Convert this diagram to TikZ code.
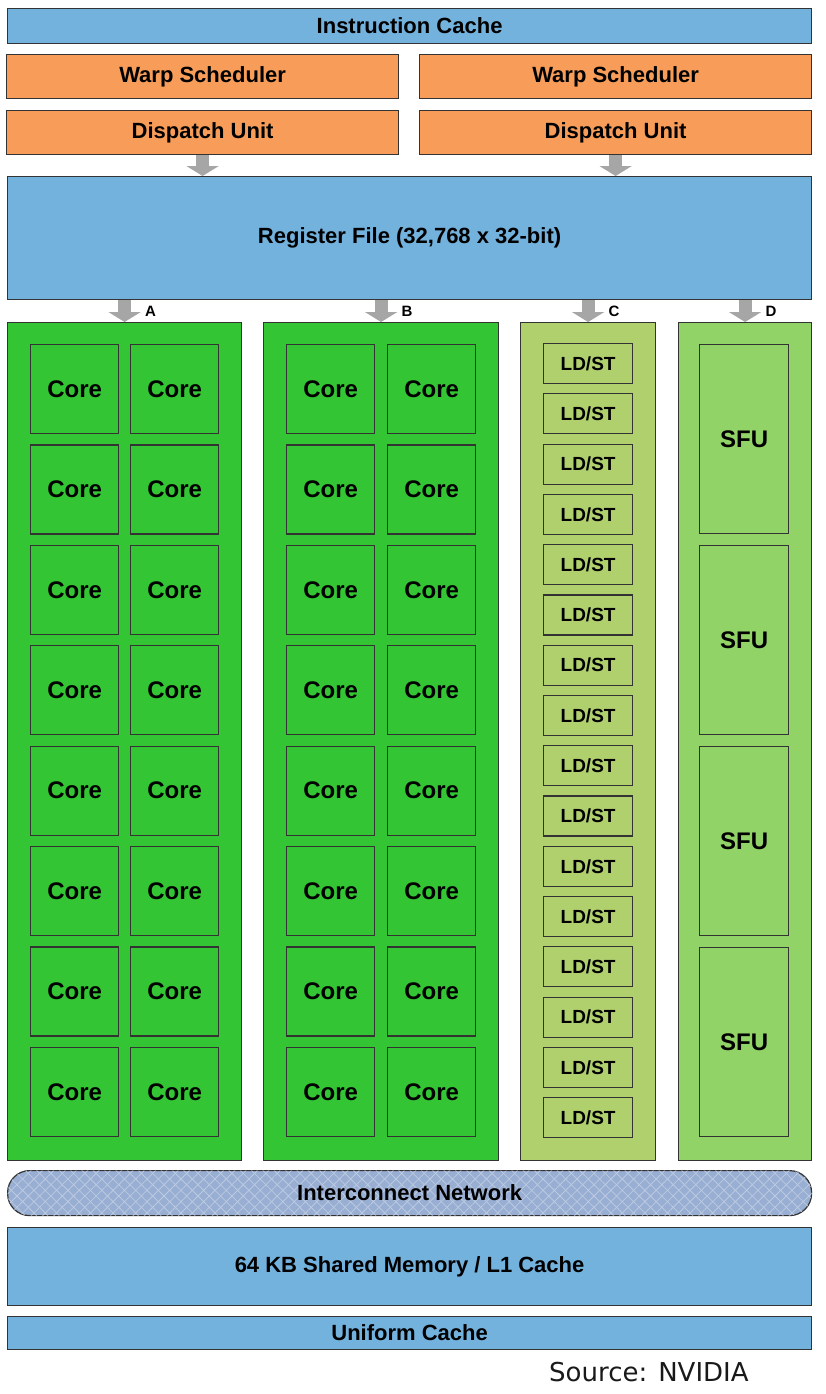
\documentclass[tikz,border=0pt]{standalone}
\usepackage{fontspec}
\setmainfont{Liberation Sans}
\newfontfamily\srcfont{DejaVu Sans}
\usetikzlibrary{positioning,arrows.meta,patterns.meta,calc}

\definecolor{cacheblue}{RGB}{116,178,222}
\definecolor{schedorange}{RGB}{247,157,89}
\definecolor{coregreen}{RGB}{51,197,51}
\definecolor{ldstgreen}{RGB}{176,208,110}
\definecolor{sfugreen}{RGB}{146,211,104}
\definecolor{netblue}{RGB}{152,174,210}
\definecolor{feedgray}{RGB}{166,166,166}

\begin{document}
\begin{tikzpicture}[x=1pt, y=-1pt,
    box/.style={rectangle, draw=black!80, line width=1.2pt, anchor=north west, inner sep=0pt, align=center, font=\bfseries\fontsize{22}{24}\selectfont},
    sized/.style 2 args={minimum width=#1pt, minimum height=#2pt},
    cachebox/.style={box, fill=cacheblue},
    schedbox/.style={box, fill=schedorange, sized={392}{44}},
    lane/.style={box, sized={#1}{838}},
    core/.style={box, fill=coregreen, sized={88}{89}, font=\bfseries\fontsize{24}{26}\selectfont},
    ldst/.style={box, fill=ldstgreen, sized={89}{40}, font=\bfseries\fontsize{19}{21}\selectfont},
    sfu/.style={box, fill=sfugreen, sized={89}{189}, font=\bfseries\fontsize{24}{26}\selectfont},
    feed/.style={draw=feedgray, line width=13pt, -{Triangle[width=32pt, length=10pt]}},
    lbl/.style={font=\bfseries\fontsize{15}{17}\selectfont, inner sep=0pt}
]
    \useasboundingbox (0,0) rectangle (825,1394);

    % front end
    \node[cachebox, sized={804}{35}] (icache) at (7,8) {Instruction Cache};
    \node[schedbox] (warp1) at (6,54) {Warp Scheduler};
    \node[schedbox] (warp2) at (419,54) {Warp Scheduler};
    \node[schedbox] (disp1) at (6,110) {Dispatch Unit};
    \node[schedbox] (disp2) at (419,110) {Dispatch Unit};
    \node[cachebox, sized={804}{123}] (regfile) at (7,176) {Register File (32,768 x 32-bit)};

    \draw[feed] (disp1.south) -- (disp1.south |- regfile.north);
    \draw[feed] (disp2.south) -- (disp2.south |- regfile.north);

    % execution lanes
    \node[lane=234, fill=coregreen] (colA) at (7,322) {};
    \node[lane=235, fill=coregreen] (colB) at (263,322) {};
    \node[lane=135, fill=ldstgreen] (colC) at (520,322) {};
    \node[lane=133, fill=sfugreen] (colD) at (678,322) {};

    \foreach \col/\lab in {colA/A, colB/B, colC/C, colD/D} {
        \draw[feed] (regfile.south -| \col.north) -- (\col.north);
        \node[lbl] (lab\lab) at ([xshift=26pt, yshift=11pt]\col.north) {\lab};
    }

    \foreach \c/\xa/\xb in {A/30/130, B/286/387} {
        \foreach \r in {0,...,7} {
            \pgfmathsetmacro\yy{344+100.4*\r}
            \node[core] (core\c-\r-1) at (\xa,\yy) {Core};
            \node[core] (core\c-\r-2) at (\xb,\yy) {Core};
        }
    }

    \foreach \r in {0,...,15} {
        \pgfmathsetmacro\yy{343+50.27*\r}
        \node[ldst] (ldst-\r) at (543,\yy) {LD/ST};
    }

    \foreach \r in {0,...,3} {
        \pgfmathsetmacro\yy{344+201*\r}
        \node[sfu] (sfu-\r) at (699,\yy) {SFU};
    }

    % memory side
    \node[box, sized={804}{45}, rounded corners=22pt, fill=netblue,
        postaction={pattern={Lines[angle=45, distance=8pt, line width=0.8pt]}, pattern color=white!35!netblue},
        postaction={pattern={Lines[angle=-45, distance=8pt, line width=0.8pt]}, pattern color=white!35!netblue}] (net) at (7,1170) {};
    \node[font=\bfseries\fontsize{22}{24}\selectfont] (netlabel) at (net.center) {Interconnect Network};
    \node[cachebox, sized={804}{78}] (smem) at (7,1227) {64 KB Shared Memory / L1 Cache};
    \node[cachebox, sized={804}{33}] (ucache) at (7,1316) {Uniform Cache};

    \node[anchor=base west, inner sep=0pt, text=black!90, font=\srcfont\fontsize{26}{28}\selectfont] (source) at (549,1381) {Source: NVIDIA};
\end{tikzpicture}
\end{document}
